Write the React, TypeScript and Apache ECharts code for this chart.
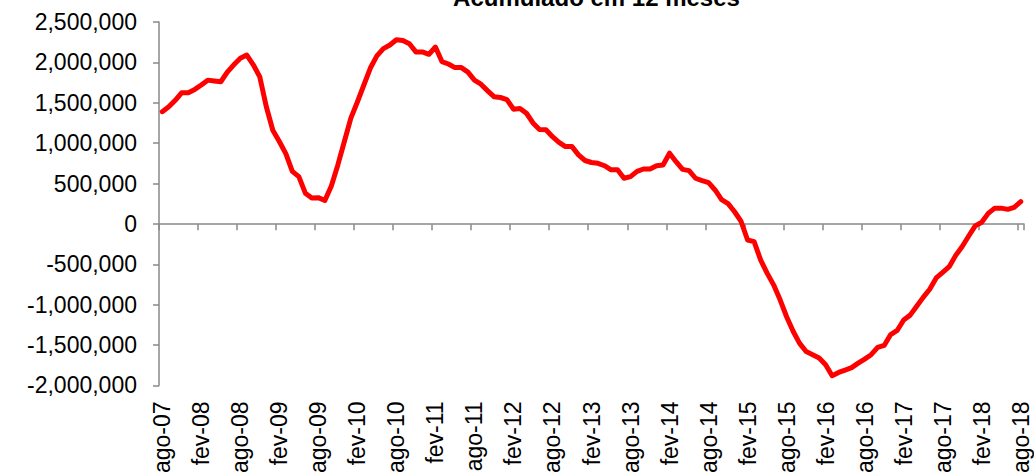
import React, { useEffect, useRef } from "react";
import * as echarts from "echarts";

const MONTHS = ["jan", "fev", "mar", "abr", "mai", "jun", "jul", "ago", "set", "out", "nov", "dez"];
const START_YEAR = 2007;
const START_MONTH = 7; // ago
const COUNT = 133;

const categories: string[] = [];
for (let k = 0; k < COUNT; k++) {
  const m = (START_MONTH + k) % 12;
  const y = START_YEAR + Math.floor((START_MONTH + k) / 12);
  categories.push(`${MONTHS[m]}-${String(y % 100).padStart(2, "0")}`);
}

const TITLE = "Acumulado em 12 meses";

const acumulado12m = [
  1390000, 1450000, 1530000, 1625000, 1625000, 1665000, 1720000, 1780000, 1770000, 1760000,
  1880000, 1970000, 2050000, 2090000, 1970000, 1820000, 1450000, 1160000, 1020000, 870000,
  650000, 585000, 380000, 320000, 325000, 290000, 470000, 730000, 1020000, 1310000,
  1510000, 1720000, 1930000, 2080000, 2170000, 2215000, 2280000, 2270000, 2230000, 2130000,
  2130000, 2100000, 2190000, 2010000, 1980000, 1935000, 1935000, 1880000, 1780000, 1730000,
  1650000, 1575000, 1565000, 1540000, 1420000, 1430000, 1370000, 1250000, 1170000, 1165000,
  1080000, 1010000, 957000, 957000, 855000, 785000, 760000, 750000, 720000, 670000,
  670000, 565000, 585000, 650000, 680000, 680000, 720000, 730000, 875000, 770000,
  675000, 660000, 565000, 535000, 510000, 420000, 300000, 250000, 150000, 30000,
  -200000, -220000, -445000, -610000, -755000, -940000, -1150000, -1330000, -1480000, -1580000,
  -1620000, -1660000, -1745000, -1880000, -1840000, -1810000, -1780000, -1725000, -1675000, -1620000,
  -1530000, -1505000, -1370000, -1320000, -1190000, -1130000, -1020000, -910000, -810000, -670000,
  -600000, -530000, -390000, -280000, -150000, -25000, 20000, 130000, 195000, 195000,
  180000, 205000, 275000,
];

const Y_MIN = -2000000;
const Y_MAX = 2500000;
const Y_STEP = 500000;

const FONT = "'Liberation Sans', Arial, sans-serif";
const AXIS_GRAY = "#898989";

function withCommas(v: number): string {
  const neg = v < 0;
  const s = String(Math.abs(Math.round(v)));
  const parts: string[] = [];
  for (let i = s.length; i > 0; i -= 3) parts.unshift(s.slice(Math.max(0, i - 3), i));
  return (neg ? "-" : "") + parts.join(",");
}

export default function App() {
  const ref = useRef<HTMLDivElement>(null);

  useEffect(() => {
    document.body.style.margin = "0";
    if (!ref.current) return;
    const chart = echarts.init(ref.current, undefined, { renderer: "svg" });
    const gridBox = { left: 159, right: 10, top: 22, bottom: 90 };
    chart.setOption({
      animation: false,
      backgroundColor: "#ffffff",
      textStyle: { fontFamily: FONT },
      graphic: [
        {
          type: "text",
          x: 596.5,
          y: -2.5,
          style: {
            text: TITLE,
            font: `bold 24px ${FONT}`,
            fill: "#000",
            align: "center",
            verticalAlign: "middle",
            textAlign: "center",
            textVerticalAlign: "middle",
          },
        },
      ],
      grid: [
        { ...gridBox },
        { ...gridBox },
      ],
      xAxis: [
        {
          type: "category",
          gridIndex: 0,
          data: categories,
          boundaryGap: true,
          position: "bottom",
          axisLine: { show: false, onZero: false },
          axisTick: { show: false },
          axisLabel: {
            interval: 5,
            rotate: 90,
            fontSize: 23,
            color: "#000",
            margin: 16,
            fontFamily: FONT,
          },
          splitLine: { show: false },
        },
        {
          type: "category",
          gridIndex: 1,
          data: categories,
          boundaryGap: true,
          position: "bottom",
          axisLine: { show: true, onZero: true, lineStyle: { color: AXIS_GRAY, width: 1.5 } },
          axisTick: { show: true, interval: 5, length: 6, lineStyle: { color: AXIS_GRAY, width: 1.5 } },
          axisLabel: { show: false },
          splitLine: { show: false },
        },
      ],
      yAxis: [
        {
          type: "value",
          gridIndex: 0,
          min: Y_MIN,
          max: Y_MAX,
          interval: Y_STEP,
          axisLine: { show: true, lineStyle: { color: AXIS_GRAY, width: 1.5 } },
          axisTick: { show: true, length: 6, lineStyle: { color: AXIS_GRAY, width: 1.5 } },
          axisLabel: {
            fontSize: 23,
            color: "#000",
            margin: 22,
            fontFamily: FONT,
            formatter: (v: number) => withCommas(v),
          },
          splitLine: { show: false },
        },
        {
          type: "value",
          gridIndex: 1,
          min: Y_MIN,
          max: Y_MAX,
          interval: Y_STEP,
          show: false,
          splitLine: { show: false },
        },
      ],
      series: [
        {
          type: "line",
          name: TITLE,
          xAxisIndex: 0,
          yAxisIndex: 0,
          data: acumulado12m,
          symbol: "none",
          lineStyle: { color: "#FF0000", width: 5, cap: "round", join: "round" },
          z: 5,
        },
      ],
    });
    return () => chart.dispose();
  }, []);

  return <div ref={ref} style={{ width: 1034, height: 476 }} />;
}
